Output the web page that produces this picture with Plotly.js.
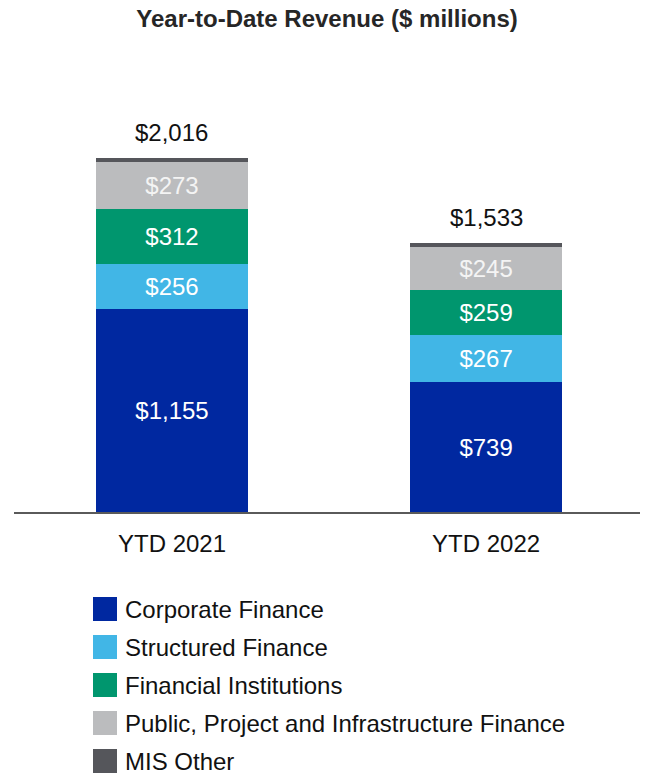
<!DOCTYPE html>
<html>
<head>
<meta charset="utf-8">
<script src="https://cdn.plot.ly/plotly-3.0.1.min.js"></script>
<style>html,body{margin:0;padding:0;background:#fff;}#chart{width:652px;height:776px;}</style>
</head>
<body>
<div id="chart"></div>
<script>
// ---- data ----
const categories = ["YTD 2021", "YTD 2022"];
const seriesNames = ["Corporate Finance", "Structured Finance", "Financial Institutions", "Public, Project and Infrastructure Finance", "MIS Other"];
const corporateFinance = [1155, 739];
const structuredFinance = [256, 267];
const financialInstitutions = [312, 259];
const publicProjectInfra = [273, 245];
const misOther = [20, 23];
const totals = [2016, 1533];
const totalLabels = ["$2,016", "$1,533"];

// ---- styles ----
const colors = ["#0028A0", "#41B6E6", "#00966E", "#BBBCBE", "#55565B"];
const textColors = ["#ffffff", "#ffffff", "#ffffff", "#f4f4f4", "#ffffff"];
const FONT = "Liberation Sans, Arial, sans-serif";
const FS = 24;

const W = 652, H = 776;
const M = {l: 14, r: 12, t: 60, b: 264};
const plotW = W - M.l - M.r, plotH = H - M.t - M.b;
const px2x = px => (px - M.l) / plotW;
const py2y = py => (H - M.b - py) / plotH;

const seriesValues = [corporateFinance, structuredFinance, financialInstitutions, publicProjectInfra, misOther];

const traces = seriesValues.map((vals, i) => ({
  type: "bar",
  name: seriesNames[i],
  x: categories,
  y: vals,
  width: 0.484,
  marker: {color: colors[i], line: {width: 0}},
  texttemplate: i === 4 ? "" : "$%{y:,}",
  textposition: i === 4 ? "none" : "inside",
  insidetextanchor: "middle",
  constraintext: "none",
  textfont: {family: FONT, size: FS, color: textColors[i]},
  hoverinfo: "skip",
  showlegend: false
}));

const annotations = categories.map((c, i) => ({
  x: c, y: totals[i], xref: "x", yref: "y",
  text: totalLabels[i], showarrow: false,
  yanchor: "bottom", yshift: 10,
  font: {family: FONT, size: FS, color: "#111111"}
}));

const shapes = [];
const legendRowY = [609, 647, 685, 723, 761];
seriesNames.forEach((n, i) => {
  shapes.push({
    type: "rect", xref: "paper", yref: "paper",
    xsizemode: "pixel", ysizemode: "pixel",
    xanchor: px2x(93), yanchor: py2y(legendRowY[i]),
    x0: 0, x1: 24, y0: -12, y1: 12,
    fillcolor: colors[i], line: {width: 0}
  });
  annotations.push({
    xref: "paper", yref: "paper", x: px2x(123), y: py2y(legendRowY[i]),
    xanchor: "left", yanchor: "middle", showarrow: false,
    text: n, font: {family: FONT, size: FS, color: "#111111"}
  });
});

const layout = {
  width: W, height: H,
  margin: M,
  paper_bgcolor: "#ffffff", plot_bgcolor: "#ffffff",
  barmode: "stack",
  bargap: 0.5,
  title: {text: "<b>Year-to-Date Revenue ($ millions)</b>", x: 0.5, xref: "paper", xanchor: "center", y: 1 - 19 / H, yref: "container", yanchor: "middle",
    font: {family: FONT, size: 24, color: "#262626"}},
  xaxis: {
    type: "category", range: [-0.503, 1.49], fixedrange: true,
    showline: true, linecolor: "#5a5a5a", linewidth: 2,
    showgrid: false, zeroline: false, ticks: "",
    ticklabelstandoff: 9,
    tickfont: {family: FONT, size: FS, color: "#111111"}
  },
  yaxis: {
    range: [0, plotH / 0.1756], fixedrange: true,
    visible: false, showgrid: false, zeroline: false
  },
  annotations: annotations,
  shapes: shapes,
  hovermode: false
};

Plotly.newPlot("chart", traces, layout, {displayModeBar: false, staticPlot: true});
</script>
</body>
</html>
